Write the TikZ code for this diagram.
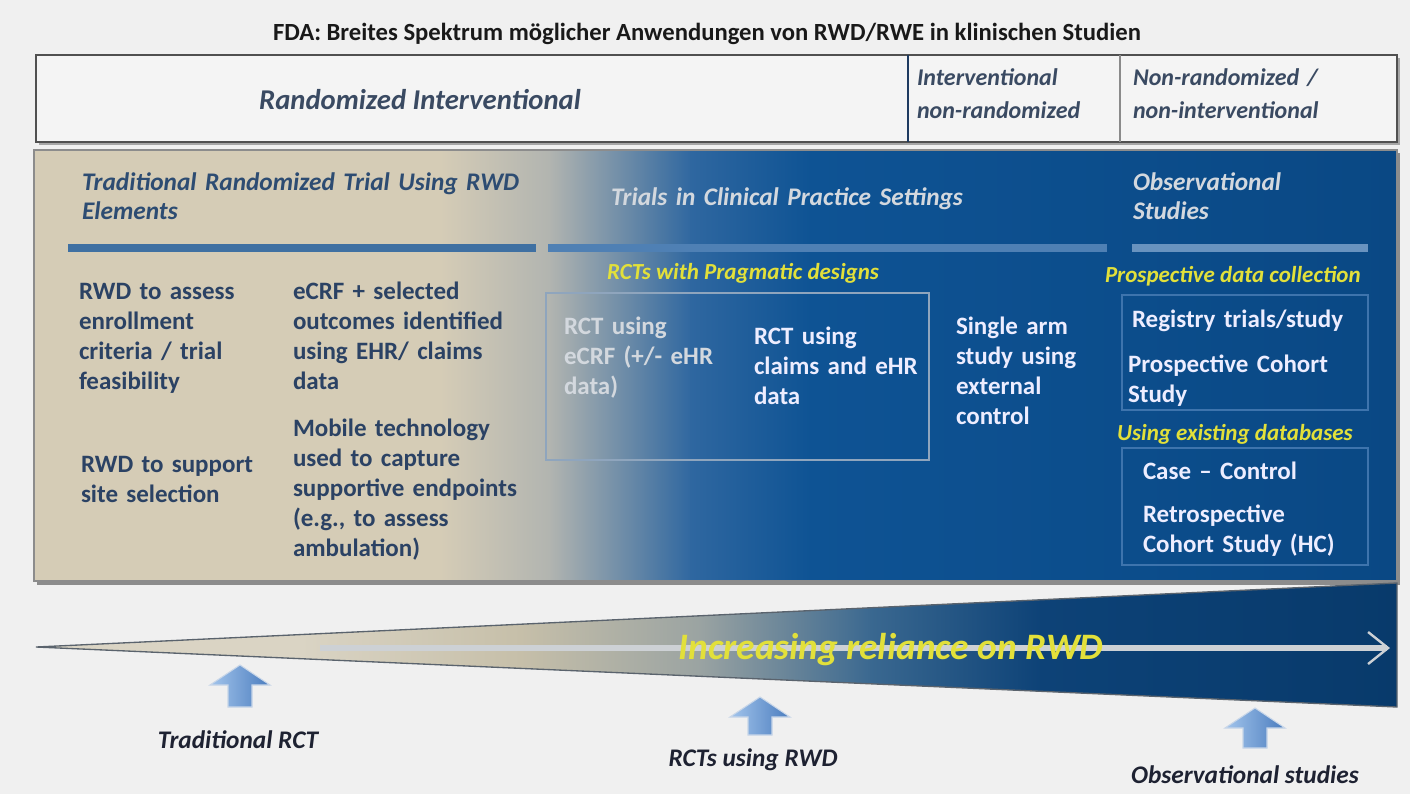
\documentclass[tikz,border=0pt]{standalone}
\usepackage{fontspec}
\setmainfont{Carlito}
\usetikzlibrary{arrows.meta}
\definecolor{bgc}{HTML}{F0F0F0}
\definecolor{boxfill}{HTML}{F4F4F4}
\definecolor{boxline}{HTML}{505050}
\definecolor{divA}{HTML}{1E3A60}
\definecolor{divB}{HTML}{8A8A8A}
\definecolor{topc}{HTML}{3A4A62}
\definecolor{beige}{HTML}{D5CCB6}
\definecolor{midA}{HTML}{B1B4B0}
\definecolor{midB}{HTML}{2F67A0}
\definecolor{blueA}{HTML}{0E5394}
\definecolor{blueB}{HTML}{0A4884}
\definecolor{navyt}{HTML}{2B4264}
\definecolor{hdrt}{HTML}{2D4C72}
\definecolor{yel}{HTML}{E2E03A}
\definecolor{barL}{HTML}{3F70A2}
\definecolor{barR}{HTML}{4F80B4}
\definecolor{boxA}{HTML}{8FA5BD}
\definecolor{boxB}{HTML}{3E74AD}
\definecolor{fadet}{HTML}{D3D8DE}
\definecolor{wA}{HTML}{DAD4C4}
\definecolor{wB}{HTML}{C6BFA9}
\definecolor{wC}{HTML}{9AA3A2}
\definecolor{wD}{HTML}{3A6890}
\definecolor{wE}{HTML}{0D4277}
\definecolor{wF}{HTML}{083A6B}
\definecolor{wline}{HTML}{5A636D}
\definecolor{linec}{HTML}{CDD1D5}
\definecolor{arrL}{HTML}{A3C5EC}
\definecolor{arrR}{HTML}{4A7CBE}
\definecolor{arrO}{HTML}{C8D6E8}
\definecolor{lblc}{HTML}{1E2232}
\newcommand\uparr[3]{%
  \shade[left color=arrL,right color=arrR,draw=arrO,line width=0.8pt]
    ({#1-12},#3) -- ({#1-12},{#2+20}) -- ({#1-30},{#2+20}) -- (#1,#2)
    -- ({#1+30},{#2+20}) -- ({#1+12},{#2+20}) -- ({#1+12},#3) -- cycle;}
\begin{document}
\begin{tikzpicture}[x=0.75pt,y=-0.75pt,
  every node/.style={inner sep=0pt,outer sep=0pt},
  body/.style={font=\fontsize{18.75pt}{22.5pt}\selectfont\bfseries,text=navyt,
    anchor=base west,text width=220pt},
  wbody/.style={body,text=white},
  hdr/.style={font=\fontsize{19pt}{21.75pt}\selectfont\bfseries\itshape,
    anchor=base west,text width=360pt},
  sub/.style={font=\fontsize{17.25pt}{20pt}\selectfont\bfseries\itshape,text=yel,anchor=base west},
  topt/.style={font=\fontsize{18pt}{24.75pt}\selectfont\bfseries\itshape,text=topc,
    anchor=base west,text width=170pt},
  lbl/.style={font=\fontsize{19pt}{22pt}\selectfont\bfseries\itshape,text=lblc},
  bar/.style={line width=6pt}
]
\useasboundingbox (0,0) rectangle (1410,794);
\fill[bgc] (0,0) rectangle (1410,794);

% title
\node[font=\fontsize{18.5pt}{20pt}\selectfont\bfseries,text=black!90,anchor=base] (title) at (707,40)
  {FDA: Breites Spektrum möglicher Anwendungen von RWD/RWE in klinischen Studien};

% top box
\fill[black!35] (39,58) rectangle (1400,145);
\draw[boxline,line width=1.2pt,fill=boxfill] (36,55) rectangle (1397,142);
\draw[divA,line width=1.6pt] (908,55) -- (908,142);
\draw[divB,line width=1.2pt] (1120,55) -- (1120,142);
\node[font=\fontsize{21.5pt}{24pt}\selectfont\bfseries\itshape,text=topc] (ri) at (420,100) {Randomized Interventional};
\node[topt] (inr) at (917,85) {Interventional\\non-randomized};
\node[topt] (nrni) at (1133,85) {Non-randomized /\\non-interventional};

% main panel
\fill[black!45] (37,153) rectangle (1400,585);
\fill[beige] (34,150) rectangle (442,581);
\shade[left color=beige,right color=midA] (440,150) rectangle (552,581);
\shade[left color=midA,right color=midB] (550,150) rectangle (692,581);
\shade[left color=midB,right color=blueA] (690,150) rectangle (812,581);
\shade[left color=blueA,right color=blueB] (810,150) rectangle (1397,581);
\draw[black!45,line width=1.2pt] (34,150) rectangle (1397,581);

% section bars
\draw[bar,barL] (68,248) -- (536,248);
\draw[bar,barR] (548,248) -- (1107,248);
\draw[bar,barR!85!white] (1132,248) -- (1368,248);

% headers
\node[hdr,text=hdrt] (h1) at (82,190) {Traditional Randomized Trial Using RWD\\Elements};
\node[hdr,text=fadet] (h2) at (611,205) {Trials in Clinical Practice Settings};
\node[hdr,text=fadet] (h3) at (1133,190) {Observational\\Studies};

% left column
\node[body] (n1) at (79,299) {RWD to assess\\enrollment\\criteria / trial\\feasibility};
\node[body] (n2) at (293,299) {eCRF + selected\\outcomes identified\\using EHR/ claims\\data};
\node[body] (n3) at (293,436) {Mobile technology\\used to capture\\supportive endpoints\\(e.g., to assess\\ambulation)};
\node[body] (n4) at (81,472) {RWD to support\\site selection};

% middle
\node[sub] (s1) at (607,279) {RCTs with Pragmatic designs};
\draw[boxA,line width=0.9pt] (546,293) rectangle (929,460);
\node[body,text=fadet] (m1) at (564,334) {RCT using\\eCRF (+/- eHR\\data)};
\node[wbody,text=white!93!blue] (m2) at (754,344) {RCT using\\claims and eHR\\data};
\node[wbody,text=white!93!blue] (m3) at (956,334) {Single arm\\study using\\external\\control};

% right
\node[sub] (s2) at (1105,282) {Prospective data collection};
\draw[boxB,line width=0.9pt] (1122,295) rectangle (1368,410);
\node[wbody,text=white!93!blue] (r1) at (1132,327) {Registry trials/study};
\node[wbody,text=white!93!blue] (r2) at (1128,372) {Prospective Cohort\\Study};
\node[sub] (s3) at (1117,440) {Using existing databases};
\draw[boxB,line width=0.9pt] (1122,448) rectangle (1368,565);
\node[wbody,text=white!93!blue] (r3) at (1143,479) {Case – Control};
\node[wbody,text=white!93!blue] (r4) at (1143,522) {Retrospective\\Cohort Study (HC)};

% wedge
\begin{scope}
\clip (36,647) -- (1397,583) -- (1397,707) -- cycle;
\fill[wA] (30,570) rectangle (302,720);
\shade[left color=wA,right color=wB] (300,570) rectangle (522,720);
\shade[left color=wB,right color=wC] (520,570) rectangle (702,720);
\shade[left color=wC,right color=wD] (700,570) rectangle (872,720);
\shade[left color=wD,right color=wE] (870,570) rectangle (1042,720);
\shade[left color=wE,right color=wF] (1040,570) rectangle (1400,720);
\end{scope}
\draw[wline,line width=1pt] (36,647) -- (1397,583) -- (1397,707) -- cycle;

% arrow line
\coordinate (ls) at (320,648);
\coordinate (le) at (1390,648);
\draw[linec,line width=4.5pt,-{Straight Barb[length=15pt,width=24pt,line width=1.8pt]}] (ls) -- (le);
\node[font=\fontsize{28pt}{30pt}\selectfont\bfseries\itshape,text=yel] (inc) at (891,650) {Increasing reliance on RWD};

% up arrows
\uparr{240}{665}{707}
\uparr{760}{697}{735}
\uparr{1255}{708}{748}

% labels
\node[lbl] (l1) at (238,740) {Traditional RCT};
\node[lbl] (l2) at (753,760) {RCTs using RWD};
\node[lbl] (l3) at (1245,775) {Observational studies};
\end{tikzpicture}
\end{document}
